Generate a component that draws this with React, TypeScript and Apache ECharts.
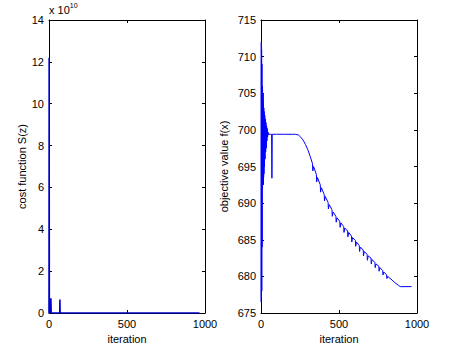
import React, { useEffect, useRef } from "react";
import * as echarts from "echarts";

// Left panel: cost function S(z), values in units of 1e10
const costPoints: [number, number][] = [
  [0, 0], [1, 12.2], [2, 0.3], [4, 0.05], [8, 0], [11, 0], [12, 0.7], [13, 0.7], [14, 0],
  [69, 0], [70, 0.65], [71, 0], [965, 0],
];

// Right panel: objective value f(x)
const objEarly: [number, number][] = [
  [0, 676.5], [1, 707], [2, 712], [3, 677], [4, 711], [5, 678], [6, 709], [7, 684],
  [8, 706], [9, 692], [10, 705.5], [11, 692.5], [12, 704], [13, 693], [14, 705],
  [15, 692.5], [16, 703.5], [17, 693.5], [18, 703], [19, 694], [20, 702.5], [22, 695],
  [24, 702], [26, 696], [28, 701.5], [30, 697], [32, 701], [34, 697.5], [36, 700.5],
  [38, 698.5], [40, 700.2], [42, 699], [45, 699.7], [48, 699.3], [52, 699.4],
];
const objPlateau: [number, number][] = [
  [60, 699.4], [68, 699.4], [70, 693.4], [72, 699.4], [100, 699.4], [150, 699.4],
  [200, 699.4], [220, 699.4], [240, 699.3], [255, 699.0], [270, 698.6], [285, 698.0],
  [300, 697.3], [315, 696.4],
];
const objDecline: [number, number][] = [
  [330, 695.4], [332, 694.4], [337, 695.0],
  [355, 693.9], [357, 692.9], [362, 693.5],
  [380, 692.5], [382, 691.5], [387, 692.1],
  [405, 691.2], [407, 690.3], [412, 690.9],
  [430, 690.1], [432, 689.2], [437, 689.8],
  [455, 689.1], [457, 688.2], [462, 688.8],
  [480, 688.2], [482, 687.4], [487, 688.0],
  [505, 687.5], [507, 686.7], [512, 687.3],
  [530, 686.8], [532, 686.0], [537, 686.6],
  [555, 686.2], [557, 685.4], [562, 686.0],
  [580, 685.5], [582, 684.7], [587, 685.3],
  [605, 684.9], [607, 684.1], [612, 684.7],
  [630, 684.2], [632, 683.4], [637, 684.0],
  [655, 683.6], [657, 682.8], [662, 683.4],
  [680, 683.0], [682, 682.2], [687, 682.8],
  [705, 682.5], [707, 681.7], [712, 682.3],
  [730, 681.9], [732, 681.2], [737, 681.7],
  [755, 681.4], [757, 680.7], [762, 681.2],
  [780, 680.8], [782, 680.2], [787, 680.6],
  [805, 680.2], [807, 679.7], [812, 680.0],
  [840, 679.5], [860, 679.1], [880, 678.8], [893, 678.6], [965, 678.6],
];

const xTicks = [0, 500, 1000];

const FONT = "'Liberation Sans', Arial, sans-serif";
const BLACK = "#000";
const LINE = "#0000ff";

function boxAxesX(gridIndex: number, name: string) {
  const common = {
    type: "value" as const,
    gridIndex,
    min: xTicks[0],
    max: xTicks[xTicks.length - 1],
    interval: 500,
    splitLine: { show: false },
    axisLine: { show: true, onZero: false, lineStyle: { color: BLACK, width: 1 } },
    axisTick: { show: true, inside: true, length: 3, lineStyle: { color: BLACK } },
  };
  return [
    {
      ...common,
      position: "bottom",
      name,
      nameLocation: "middle",
      nameGap: 17,
      nameTextStyle: { color: BLACK, fontSize: 11, fontFamily: FONT },
      axisLabel: {
        color: BLACK,
        fontSize: 11,
        fontFamily: FONT,
        margin: 5,
        formatter: (v: number) => String(v),
      },
    },
    { ...common, position: "top", axisLabel: { show: false } },
  ];
}

function boxAxesY(
  gridIndex: number,
  name: string,
  min: number,
  max: number,
  interval: number,
  nameGap: number
) {
  const common = {
    type: "value" as const,
    gridIndex,
    min,
    max,
    interval,
    splitLine: { show: false },
    axisLine: { show: true, onZero: false, lineStyle: { color: BLACK, width: 1 } },
    axisTick: { show: true, inside: true, length: 3, lineStyle: { color: BLACK } },
  };
  return [
    {
      ...common,
      position: "left",
      name,
      nameLocation: "middle",
      nameGap,
      nameTextStyle: { color: BLACK, fontSize: 11, fontFamily: FONT },
      axisLabel: {
        color: BLACK,
        fontSize: 11,
        fontFamily: FONT,
        margin: 5,
        formatter: (v: number) => String(v),
      },
    },
    { ...common, position: "right", axisLabel: { show: false } },
  ];
}

export default function App() {
  const ref = useRef<HTMLDivElement>(null);
  useEffect(() => {
    if (!ref.current) return;
    const chart = echarts.init(ref.current, undefined, { renderer: "svg" });
    const objData = [...objEarly, ...objPlateau, ...objDecline];
    chart.setOption({
      animation: false,
      backgroundColor: "#fff",
      grid: [
        { left: 49, top: 20, width: 156, height: 293 },
        { left: 261, top: 20, width: 156, height: 293 },
      ],
      xAxis: [...boxAxesX(0, "iteration"), ...boxAxesX(1, "iteration")],
      yAxis: [
        ...boxAxesY(0, "cost function S(z)", 0, 14, 2, 20),
        ...boxAxesY(1, "objective value f(x)", 675, 715, 5, 32),
      ],
      graphic: [
        {
          type: "text",
          left: 49,
          top: 2,
          style: {
            text: "x 10{sup|10}",
            fill: BLACK,
            fontSize: 11,
            fontFamily: FONT,
            rich: {
              sup: { fontSize: 7, fontFamily: FONT, fill: BLACK, verticalAlign: "top", padding: [0, 0, 8, 0] },
            },
          },
        },
      ],
      series: [
        {
          type: "line",
          xAxisIndex: 0,
          yAxisIndex: 0,
          data: costPoints,
          showSymbol: false,
          symbol: "none",
          lineStyle: { color: "#0000cc", width: 1.6 },
        },
        {
          type: "line",
          xAxisIndex: 2,
          yAxisIndex: 2,
          data: objData,
          showSymbol: false,
          symbol: "none",
          lineStyle: { color: LINE, width: 1 },
        },
      ],
    });
    return () => chart.dispose();
  }, []);
  return (
    <div
      ref={ref}
      style={{ position: "fixed", left: 0, top: 0, width: 451, height: 353, background: "#fff" }}
    />
  );
}
